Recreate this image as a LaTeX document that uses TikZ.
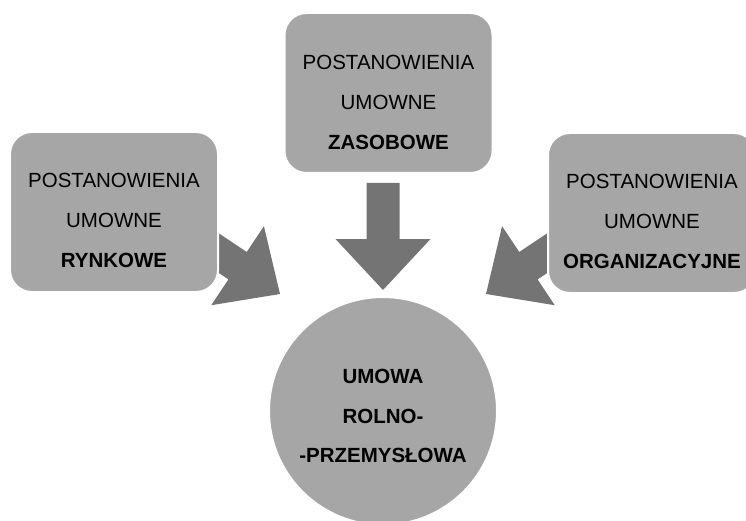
\documentclass[tikz,border=0pt]{standalone}
\usepackage{fontspec}
\setmainfont{Liberation Sans}
\definecolor{boxgray}{RGB}{166,166,166}
\definecolor{arrowgray}{RGB}{116,116,116}
\tikzset{
    box/.style={rectangle, rounded corners=22pt, fill=boxgray, draw=white,
        line width=2pt, minimum width=208pt, minimum height=160pt},
    txt/.style={align=center, font=\fontsize{20.5}{40}\selectfont},
    blockarrow/.pic={
        \fill[arrowgray] (0,0) -- (-51,47.5) -- (-51,16.5) -- (-107,16.5)
            -- (-107,-16.5) -- (-51,-16.5) -- (-51,-47.5) -- cycle;
    }
}
\begin{document}
\begin{tikzpicture}[x=1pt, y=1pt]
\clip (0,0) rectangle (746,520);
% arrows first, the boxes cover their tails
\coordinate (tipL) at (280,226);
\coordinate (tipM) at (383,230);
\coordinate (tipR) at (486,226);
\pic[rotate=-33.7] at (tipL) {blockarrow};
\pic[rotate=-90] at (tipM) {blockarrow};
\pic[rotate=213.7] at (tipR) {blockarrow};
% boxes
\node[box] (rynkowe) at (114,308) {};
\node[box] (zasobowe) at (388.5,427) {};
\node[box] (organiz) at (652,307) {};
\node[box, circle, minimum size=228pt] (umowa) at (383,109) {};
% texts
\node[txt] (rynkowe-t) at ([yshift=-8]rynkowe.center)
    {POSTANOWIENIA\\UMOWNE\\\textbf{RYNKOWE}};
\node[txt] (zasobowe-t) at ([yshift=-9]zasobowe.center)
    {POSTANOWIENIA\\UMOWNE\\\textbf{ZASOBOWE}};
\node[txt] (organiz-t) at ([yshift=-8]organiz.center)
    {POSTANOWIENIA\\UMOWNE\\\textbf{ORGANIZACYJNE}};
\node[txt, font=\fontsize{20.5}{39.5}\selectfont\bfseries] (umowa-t) at ([yshift=-5]umowa.center)
    {UMOWA\\ROLNO-\\-PRZEMYSŁOWA};
\end{tikzpicture}
\end{document}
